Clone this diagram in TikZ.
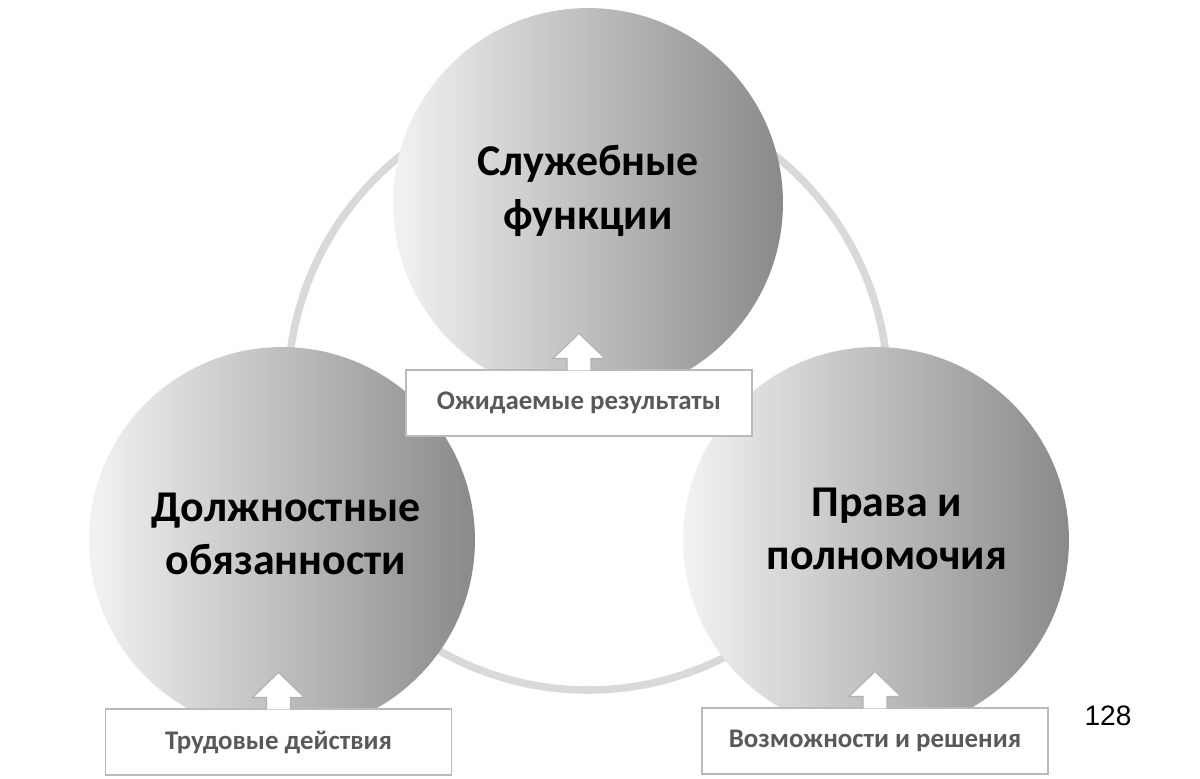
\documentclass[tikz,border=0pt]{standalone}
\usepackage{fontspec}
\newfontfamily\calib{Carlito}
\newfontfamily\arialf{Liberation Sans}
\usepackage{tikz}
\usetikzlibrary{calc,positioning}

\begin{document}
\begin{tikzpicture}[x=0.02cm, y=-0.02cm,
    ball/.style={circle, minimum size=#1, inner sep=0pt, left color=black!5, right color=black!46},
    title/.style={align=center, font=\calib\bfseries\fontsize{25}{30.5}\selectfont},
    tag/.style={draw=black!27, line width=0.7pt, fill=white, minimum width=6.92cm, minimum height=1.32cm, inner sep=0pt, font=\calib\bfseries\fontsize{15.3}{18}\selectfont, text=black!65},
    uparr/.style={draw=black!30, line width=0.7pt, fill=white, line join=miter},
    ring/.style={draw=black!15, line width=4.3pt}
]
\useasboundingbox (0,0) rectangle (1200,778);

\draw[ring] (588,390) circle (300);

\node[ball=7.8cm] (svc) at (588,203) {};
\node[ball=7.72cm] (duty) at (282,540) {};
\node[ball=7.72cm] (right) at (876,540) {};

\node[title] (svct) at (588,191) {Служебные\\функции};
\node[title] (dutyt) at (286,534) {Должностные\\обязанности};
\node[title] (rightt) at (887,529) {Права и\\полномочия};

\node[tag] (res) at (579,403) {Ожидаемые результаты};
\node[tag] (work) at (278.5,742) {Трудовые действия};
\node[tag] (opt) at (875,741) {Возможности и решения};

\foreach \b in {res,work,opt}
  \draw[uparr] ($(\b.north)+(-12,1)$) -- ++(0,-12) -- ++(-14,0) -- ($(\b.north)+(0,-36)$)
    -- ($(\b.north)+(26,-11)$) -- ++(-14,0) -- ($(\b.north)+(12,1)$);

\node[font=\arialf\fontsize{16}{18}\selectfont] (page) at (1108,716) {128};
\end{tikzpicture}
\end{document}
